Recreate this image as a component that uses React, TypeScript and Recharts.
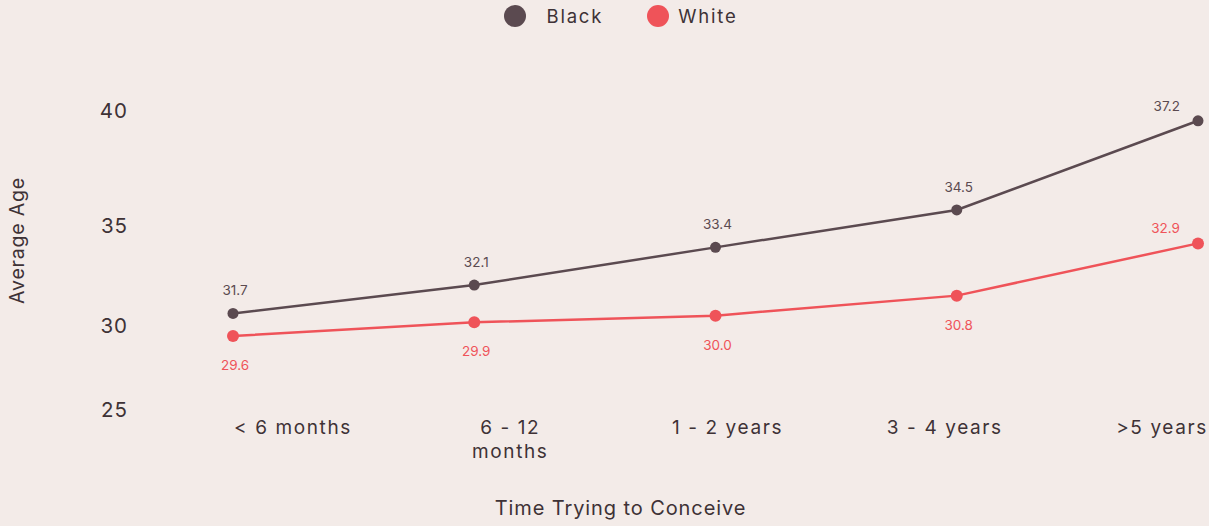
import React from 'react';
import { LineChart, Line, XAxis, YAxis, Legend, LabelList } from 'recharts';

// category labels ("\n" = forced line break in the tick)
const categories = ['< 6 months', '6 - 12\nmonths', '1 - 2 years', '3 - 4 years', '>5 years'];
const blackValues = [30.66, 32.13, 33.99, 35.74, 39.6];
const whiteValues = [29.43, 30.18, 30.54, 31.59, 34.18];
// the printed point labels (they do not match the axis in the original)
const blackLabels = ['31.7', '32.1', '33.4', '34.5', '37.2'];
const whiteLabels = ['29.6', '29.9', '30.0', '30.8', '32.9'];
const yTicks = [25, 30, 35, 40];

const BLACK = '#5b4a50';
const WHITE = '#ef5359';
const TEXT = '#3e3236';
const BG = '#f3ebe8';
const FONT = 'Inter, "Open Sans", sans-serif';

const data = categories.map((name, i) => ({
    name,
    black: blackValues[i],
    white: whiteValues[i],
    blackLabel: blackLabels[i],
    whiteLabel: whiteLabels[i],
}));

// y axis of the original is spaced like a square (pow 2) scale
function squareScale(): any {
    let dom = [0, 1];
    let rng = [0, 1];
    const scale: any = (v: number) => {
        const a = dom[0] * dom[0];
        const b = dom[1] * dom[1];
        return rng[0] + ((v * v - a) / (b - a)) * (rng[1] - rng[0]);
    };
    scale.domain = (d?: any) => {
        if (d === undefined) return dom.slice();
        dom = [Number(d[0]), Number(d[1])];
        return scale;
    };
    scale.range = (r?: any) => {
        if (r === undefined) return rng.slice();
        rng = [Number(r[0]), Number(r[1])];
        return scale;
    };
    scale.invert = (px: number) => {
        const a = dom[0] * dom[0];
        const b = dom[1] * dom[1];
        return Math.sqrt(a + ((px - rng[0]) / (rng[1] - rng[0])) * (b - a));
    };
    scale.ticks = () => yTicks;
    scale.copy = () => squareScale().domain(dom).range(rng);
    return scale;
}

const XTick = (props: any) => {
    const { x, y, payload } = props;
    const lines = String(payload.value).split('\n');
    return (
        <text
            x={x}
            y={y}
            textAnchor="middle"
            fill={TEXT}
            fontSize={19}
            letterSpacing={1.6}
            fontFamily={FONT}
        >
            {lines.map((l, i) => (
                <tspan key={i} x={x} dy={i === 0 ? '0.71em' : 24}>
                    {l}
                </tspan>
            ))}
        </text>
    );
};

const YTitle = (props: any) => {
    const { viewBox } = props;
    const cx = viewBox.x + 17;
    const cy = viewBox.y + viewBox.height / 2 - 20;
    return (
        <text
            x={cx}
            y={cy}
            transform={`rotate(-90, ${cx}, ${cy})`}
            textAnchor="middle"
            dominantBaseline="central"
            fill={TEXT}
            fontSize={19.5}
            letterSpacing={0.8}
            fontFamily={FONT}
        >
            Average Age
        </text>
    );
};

const XTitle = (props: any) => {
    const { viewBox } = props;
    return (
        <text
            x={viewBox.x + viewBox.width / 2 - 95}
            y={viewBox.y + viewBox.height - 11}
            textAnchor="middle"
            fill={TEXT}
            fontSize={20}
            letterSpacing={0.9}
            fontFamily={FONT}
        >
            Time Trying to Conceive
        </text>
    );
};

const pointLabel = (color: string, below: boolean) => (props: any) => {
    const { x, y, value, index } = props;
    const last = index === categories.length - 1;
    if (last) {
        return (
            <text x={x - 18} y={y - 10} textAnchor="end" fill={color} fontSize={13.5} fontFamily={FONT}>
                {value}
            </text>
        );
    }
    return (
        <text x={x + 2} y={below ? y + 34 : y - 18} textAnchor="middle" fill={color} fontSize={13.5} fontFamily={FONT}>
            {value}
        </text>
    );
};

const LegendContent = (props: any) => {
    const { payload } = props;
    return (
        <div
            style={{
                display: 'flex',
                justifyContent: 'center',
                alignItems: 'center',
                height: 32,
                paddingLeft: 33,
                boxSizing: 'border-box',
            }}
        >
            {(payload || []).map((item: any, i: number) => (
                <div key={i} style={{ display: 'flex', alignItems: 'center', marginLeft: i === 0 ? 0 : 44 }}>
                    <span
                        style={{
                            width: 22,
                            height: 22,
                            borderRadius: '50%',
                            background: item.color,
                            display: 'inline-block',
                            marginRight: i === 0 ? 20 : 9,
                        }}
                    />
                    <span style={{ color: TEXT, fontSize: 18.5, letterSpacing: 1.8, fontFamily: FONT }}>
                        {item.value}
                    </span>
                </div>
            ))}
        </div>
    );
};

const App: React.FC = () => {
    return (
        <div style={{ width: 1209, height: 526, background: BG, fontFamily: FONT }}>
            <style>{'body{margin:0;}'}</style>
            <LineChart width={1209} height={526} data={data} margin={{ top: 79, right: 11, bottom: 0, left: 0 }}>
                <Legend
                    verticalAlign="top"
                    content={<LegendContent />}
                    wrapperStyle={{ top: 0, left: 0, width: 1209, height: 32 }}
                />
                <XAxis xAxisId="pts" dataKey="name" hide />
                <XAxis
                    xAxisId="labels"
                    dataKey="name"
                    height={116}
                    axisLine={false}
                    tickLine={false}
                    tickMargin={5}
                    interval={0}
                    padding={{ left: 60, right: 36 }}
                    tick={<XTick />}
                    label={<XTitle />}
                />
                <YAxis
                    type="number"
                    domain={[25, 40]}
                    ticks={yTicks}
                    scale={squareScale()}
                    allowDataOverflow
                    width={233}
                    axisLine={false}
                    tickLine={false}
                    tickMargin={99}
                    tick={{ fill: TEXT, fontSize: 20.5, letterSpacing: 1, fontFamily: FONT }}
                    label={<YTitle />}
                />
                <Line
                    xAxisId="pts"
                    type="linear"
                    dataKey="black"
                    name="Black"
                    stroke={BLACK}
                    strokeWidth={2.5}
                    dot={{ r: 5.5, fill: BLACK, stroke: BLACK, strokeWidth: 0 }}
                    activeDot={false}
                    isAnimationActive={false}
                >
                    <LabelList dataKey="blackLabel" content={pointLabel(BLACK, false)} />
                </Line>
                <Line
                    xAxisId="pts"
                    type="linear"
                    dataKey="white"
                    name="White"
                    stroke={WHITE}
                    strokeWidth={2.5}
                    dot={{ r: 6, fill: WHITE, stroke: WHITE, strokeWidth: 0 }}
                    activeDot={false}
                    isAnimationActive={false}
                >
                    <LabelList dataKey="whiteLabel" content={pointLabel(WHITE, true)} />
                </Line>
            </LineChart>
        </div>
    );
};

export default App;
